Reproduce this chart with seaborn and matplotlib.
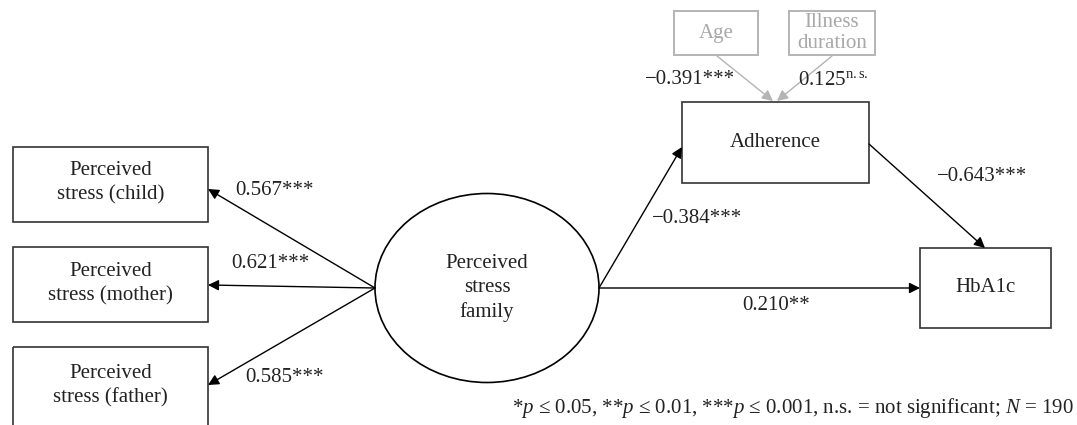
import numpy as np
import seaborn as sns
import matplotlib.pyplot as plt
from matplotlib.patches import Rectangle, Ellipse

sns.set_theme(style='white')
plt.rcParams['font.family'] = ['Liberation Serif', 'DejaVu Serif']
plt.rcParams['mathtext.fontset'] = 'custom'
plt.rcParams['mathtext.rm'] = 'Liberation Serif'
plt.rcParams['mathtext.it'] = 'Liberation Serif:italic'

# 节点名称
indicators = ['Perceived\nstress (child)', 'Perceived\nstress (mother)', 'Perceived\nstress (father)']
latent = 'Perceived\nstress\nfamily'
covariates = ['Age', 'Illness\nduration']
mediator = 'Adherence'
outcome = 'HbA1c'

# 路径系数
loadings = ['0.567***', '0.621***', '0.585***']
cov_coefs = ['\u22120.391***', '0.125$^{\\mathrm{n.s.}}$']
coef_stress_adh = '\u22120.384***'
coef_stress_hba = '0.210**'
coef_adh_hba = '\u22120.643***'
note = ('*$\\mathit{p}$ \u2264 0.05, **$\\mathit{p}$ \u2264 0.01, ***$\\mathit{p}$ \u2264 0.001, '
        'n.s. = not significant; $\\mathit{N}$ = 190')

# 布局（像素坐标）
ind_boxes = [(13, 147, 195, 75), (13, 247, 195, 75), (13, 347, 195, 95)]
ind_text_y = [183, 284, 386]
ind_tips = [(208, 189), (208, 285), (208, 385)]
load_pos = [(274, 190), (270, 263), (284, 377)]
ell = (487, 288, 224, 189)
cov_boxes = [(674, 11, 84, 44), (789, 11, 86, 44)]
cov_starts = [(717, 56), (832, 56)]
cov_tips = [(773, 101), (777, 101)]
cov_pos = [(690, 79), (833, 80)]
adh_box = (682, 102, 187, 81)
hba_box = (920, 248, 131, 80)

grey = '#b4b4b4'
fs = 15

fig = plt.figure(figsize=(10.77, 4.25), dpi=100)
ax = fig.add_axes([0, 0, 1, 1])
ax.set_xlim(0, 1077)
ax.set_ylim(425, 0)
ax.axis('off')


def box(b, label, color='#333333', tcolor='#222222', ty=None, lw=1.2, ls=1.35):
    x, y, w, h = b
    ax.add_patch(Rectangle((x, y), w, h, fill=False, ec=color, lw=lw))
    ax.text(x + w / 2, ty if ty is not None else y + h / 2, label, ha='center', va='center',
            fontsize=fs, color=tcolor, linespacing=ls)


def arrow(p0, p1, color='black'):
    ax.annotate('', xy=p1, xytext=p0,
                arrowprops=dict(arrowstyle='-|>', mutation_scale=16, lw=1.0, color=color,
                                shrinkA=0, shrinkB=0))


# 指标
left_pt = (ell[0] - ell[2] / 2, ell[1])
for b, lab, ty, tip, coef, pos in zip(ind_boxes, indicators, ind_text_y, ind_tips, loadings, load_pos):
    box(b, lab, ty=ty)
    arrow(left_pt, tip)
    ax.text(pos[0], pos[1], coef, ha='center', va='center', fontsize=fs, color='#222222')

# 潜变量
ax.add_patch(Ellipse(ell[:2], ell[2], ell[3], fill=False, ec='black', lw=1.2))
ax.text(ell[0], ell[1], latent, ha='center', va='center', fontsize=fs, color='#222222',
        linespacing=1.35)

# 协变量
for b, lab, s, t, coef, pos in zip(cov_boxes, covariates, cov_starts, cov_tips, cov_coefs, cov_pos):
    box(b, lab, color=grey, tcolor='#a8a8a8', lw=1.4, ls=1.15)
    arrow(s, t, color=grey)
    ax.text(pos[0], pos[1], coef, ha='center', va='center', fontsize=fs, color='#222222')

# 中介与结果
box(adh_box, mediator)
box(hba_box, outcome)
right_pt = (ell[0] + ell[2] / 2, ell[1])
arrow(right_pt, (adh_box[0], 147))
arrow(right_pt, (hba_box[0], ell[1]))
arrow((adh_box[0] + adh_box[2], 144), (985, hba_box[1]))
ax.text(697, 218, coef_stress_adh, ha='center', va='center', fontsize=fs, color='#222222')
ax.text(776, 305, coef_stress_hba, ha='center', va='center', fontsize=fs, color='#222222')
ax.text(982, 176, coef_adh_hba, ha='center', va='center', fontsize=fs, color='#222222')

ax.text(1074, 408, note, ha='right', va='center', fontsize=15, color='#222222')

fig.savefig('out.png', dpi=100)
